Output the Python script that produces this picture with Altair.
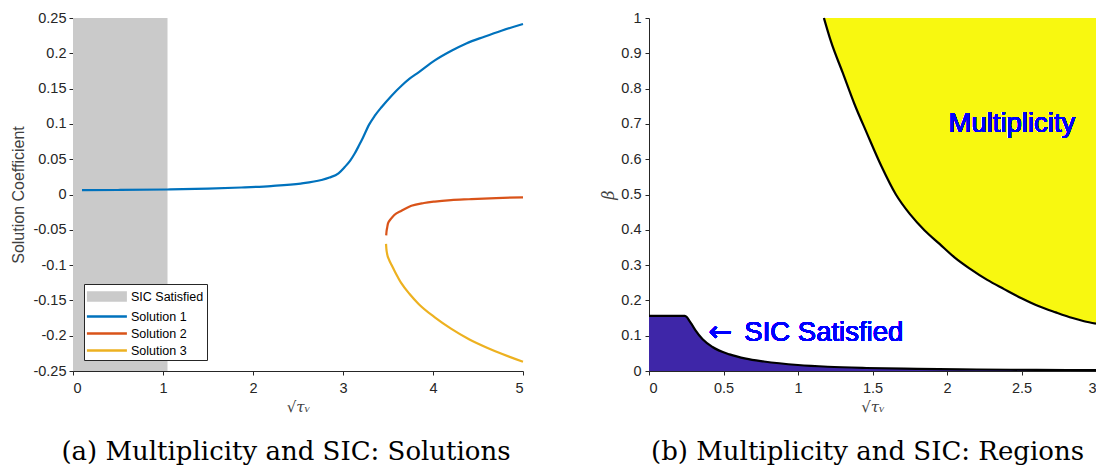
import altair as alt
import pandas as pd

# ---------------- data ----------------
legend_order = ["SIC Satisfied", "Solution 1", "Solution 2", "Solution 3"]
series_colors = ["#cacaca", "#0072bd", "#d95319", "#edb120"]

sic_band_x = [0.0]
sic_band_x2 = [1.05]
sic_band_y = [-0.25]
sic_band_y2 = [0.25]

sol1_x = [0.10, 0.50, 1.05, 1.50, 1.87, 2.20, 2.53, 2.76, 2.85, 2.95, 3.02, 3.08, 3.13,
          3.18, 3.22, 3.29, 3.35, 3.43, 3.54, 3.65, 3.74, 3.84, 4.02, 4.21, 4.37, 4.57,
          4.76, 5.00]
sol1_y = [0.0061, 0.0064, 0.0071, 0.0082, 0.0099, 0.0120, 0.0155, 0.0205, 0.0240, 0.0300,
          0.0390, 0.0480, 0.0580, 0.0700, 0.0800, 0.0990, 0.1110, 0.1240, 0.1400, 0.1540,
          0.1640, 0.1730, 0.1900, 0.2040, 0.2140, 0.2235, 0.2320, 0.2415]

sol2_x = [3.480, 3.484, 3.490, 3.500, 3.530, 3.570, 3.650, 3.760, 3.900, 4.020, 4.200,
          4.400, 4.700, 5.000]
sol2_y = [-0.058, -0.052, -0.0475, -0.041, -0.035, -0.029, -0.023, -0.016, -0.012, -0.010,
          -0.008, -0.0067, -0.005, -0.004]

sol3_x = [3.478, 3.482, 3.490, 3.510, 3.540, 3.580, 3.650, 3.740, 3.840, 4.020, 4.200,
          4.400, 4.600, 4.770, 5.000]
sol3_y = [-0.070, -0.077, -0.084, -0.092, -0.100, -0.110, -0.126, -0.141, -0.155, -0.174,
          -0.190, -0.205, -0.217, -0.226, -0.237]

mult_x = [1.174, 1.22, 1.30, 1.38, 1.462, 1.56, 1.657, 1.75, 1.85, 1.95, 2.05, 2.153, 2.27,
          2.383, 2.50, 2.613, 2.73, 2.843, 2.92, 3.00]
mult_y = [1.000, 0.935, 0.845, 0.755, 0.674, 0.580, 0.500, 0.445, 0.398, 0.360, 0.322, 0.290,
          0.258, 0.232, 0.206, 0.184, 0.166, 0.150, 0.141, 0.134]

sicb_x = [0.0, 0.240, 0.255, 0.270, 0.290, 0.311, 0.360, 0.426, 0.541, 0.650, 0.771, 1.00,
          1.20, 1.46, 1.80, 2.20, 2.60, 3.00]
sicb_y = [0.156, 0.156, 0.152, 0.143, 0.130, 0.116, 0.090, 0.068, 0.047, 0.035, 0.027, 0.017,
          0.012, 0.0085, 0.006, 0.0042, 0.0032, 0.0025]

left_y_ticks = [-0.25, -0.2, -0.15, -0.1, -0.05, 0, 0.05, 0.1, 0.15, 0.2, 0.25]
left_x_ticks = [0, 1, 2, 3, 4, 5]
right_y_ticks = [0, 0.1, 0.2, 0.3, 0.4, 0.5, 0.6, 0.7, 0.8, 0.9, 1]
right_x_ticks = [0, 0.5, 1, 1.5, 2, 2.5, 3]

# ---------------- tables ----------------
band_df = pd.DataFrame({"x": sic_band_x, "x2": sic_band_x2, "y": sic_band_y, "y2": sic_band_y2,
                        "series": ["SIC Satisfied"]})
rows = []
for name, xs, ys in [("Solution 1", sol1_x, sol1_y), ("Solution 2", sol2_x, sol2_y),
                     ("Solution 3", sol3_x, sol3_y)]:
    for i, (a, b) in enumerate(zip(xs, ys)):
        rows.append({"x": a, "y": b, "series": name, "ord": i})
lines_df = pd.DataFrame(rows)

mult_df = pd.DataFrame({"x": mult_x, "y": mult_y, "top": [1.0] * len(mult_x)})
sicb_df = pd.DataFrame({"x": sicb_x, "y": sicb_y, "bot": [0.0] * len(sicb_x)})

FONT = "Liberation Sans"
AX = "#262626"

def axis(values, title, **kw):
    base = dict(values=values, tickCount=len(values) + 2, title=title, grid=False,
                domainColor=AX, tickColor=AX, tickSize=4, labelFont=FONT, labelFontSize=14.5,
                labelColor=AX, labelOverlap=False, labelExpr="'' + datum.value",
                titleColor="#404040")
    base.update(kw)
    return alt.Axis(**base)

# ---------------- left panel ----------------
xl = alt.X("x:Q", scale=alt.Scale(domain=[0, 5], nice=False, zero=False),
           axis=axis(left_x_ticks, "√τᵥ", titleFont="DejaVu Serif", titleFontStyle="italic",
                     titleFontWeight="normal", titleFontSize=15, titlePadding=5, labelPadding=6))
yl = alt.Y("y:Q", scale=alt.Scale(domain=[-0.25, 0.25], nice=False, zero=False),
           axis=axis(left_y_ticks, "Solution Coefficient", titleFont=FONT, titleFontSize=16,
                     titleFontWeight="normal", titlePadding=6, labelPadding=3))

sic_symbol = "M-1.2,-0.5H3.8M-1.2,-0.25H3.8M-1.2,0H3.8M-1.2,0.25H3.8M-1.2,0.5H3.8"
line_symbol = "M-1.2,0H3.8"
color = alt.Color(
    "series:N",
    scale=alt.Scale(domain=legend_order, range=series_colors),
    legend=alt.Legend(
        title=None, orient="bottom-left", offset=11,
        symbolType={"expr": f"datum.value === 'SIC Satisfied' ? '{sic_symbol}' : '{line_symbol}'"},
        symbolSize=256, symbolStrokeWidth=2.5,
        labelFont=FONT, labelFontSize=12.5, labelColor="black",
        strokeColor="#262626", fillColor="white", padding=3, rowPadding=1, labelOffset=25,
    ),
)

band = alt.Chart(band_df).mark_rect(opacity=1).encode(
    x=xl, x2="x2:Q", y=yl, y2="y2:Q", color=color)
lines = alt.Chart(lines_df).mark_line(strokeWidth=2.2, interpolate="monotone").encode(
    x="x:Q", y="y:Q", color=color, order="ord:Q", detail="series:N")

left = alt.layer(band, lines).properties(
    width=450, height=353,
    title=alt.TitleParams("(a) Multiplicity and SIC: Solutions", orient="bottom",
                          font="DejaVu Serif", fontSize=26, fontWeight="normal",
                          color="black", dx=-12, offset=24),
)

# ---------------- right panel ----------------
xr = alt.X("x:Q", scale=alt.Scale(domain=[0, 3], nice=False, zero=False),
           axis=axis(right_x_ticks, "√τᵥ", titleFont="DejaVu Serif", titleFontStyle="italic",
                     titleFontWeight="normal", titleFontSize=15, titlePadding=5, labelPadding=6))
yr = alt.Y("y:Q", scale=alt.Scale(domain=[0, 1], nice=False, zero=False),
           axis=axis(right_y_ticks, "β", titleFont="DejaVu Serif", titleFontStyle="italic",
                     titleFontWeight="normal", titleFontSize=16, titlePadding=4, labelPadding=4))

mult_area = alt.Chart(mult_df).mark_area(color="#f8f810", opacity=1,
                                         interpolate="monotone").encode(x=xr, y=yr, y2="top:Q")
mult_line = alt.Chart(mult_df).mark_line(color="black", strokeWidth=2.2,
                                         interpolate="monotone").encode(x="x:Q", y="y:Q")
sic_area = alt.Chart(sicb_df).mark_area(color="#3e26a8", opacity=1,
                                        interpolate="monotone").encode(x="x:Q", y="y:Q", y2="bot:Q")
sic_line = alt.Chart(sicb_df).mark_line(color="black", strokeWidth=2.2,
                                        interpolate="monotone").encode(x="x:Q", y="y:Q")

txt_mult = alt.Chart(mult_df).mark_text(
    text="Multiplicity", align="left", baseline="middle", font=FONT, fontSize=27.5,
    fontWeight="normal", color="#0000ff").encode(x=alt.datum(2.01), y=alt.datum(0.70))
txt_arrow = alt.Chart(sicb_df).mark_text(
    text="←", align="left", baseline="middle", font="DejaVu Sans", fontSize=28,
    fontWeight="normal", color="#0000ff").encode(x=alt.datum(0.40), y=alt.datum(0.107))
txt_sic = alt.Chart(sicb_df).mark_text(
    text="SIC Satisfied", align="left", baseline="middle", font=FONT, fontSize=27.5,
    fontWeight="normal", color="#0000ff").encode(x=alt.datum(0.64), y=alt.datum(0.107))

right = alt.layer(mult_area, sic_area, mult_line, sic_line, txt_mult, txt_arrow,
                  txt_sic).properties(
    width=447, height=353,
    title=alt.TitleParams("(b) Multiplicity and SIC: Regions", orient="bottom",
                          font="DejaVu Serif", fontSize=26, fontWeight="normal",
                          color="black", dx=-5, offset=24),
)

chart = alt.hconcat(left, right, spacing=72).properties(
    padding={"left": 10, "top": 10, "right": -5, "bottom": 0},
    background="white",
).configure_view(stroke=None)

chart.save("out.html", embed_options={"renderer": "svg", "actions": False})
